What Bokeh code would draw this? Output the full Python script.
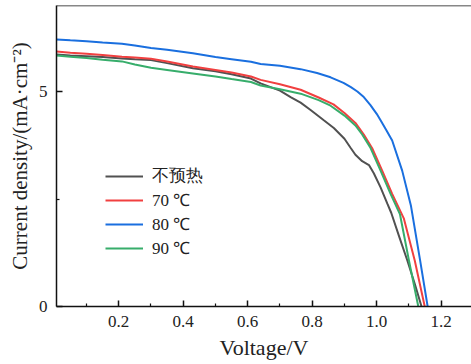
from bokeh.plotting import figure
from bokeh.models import FixedTicker, Span, Legend, LegendItem, Range1d
from bokeh.embed import file_html
from bokeh.resources import INLINE

# J-V curves of the devices (voltage in V, current density in mA/cm^2)
v_none = [0.007, 0.05, 0.10, 0.15, 0.21, 0.25, 0.30, 0.35, 0.43, 0.50, 0.55, 0.61, 0.64,
          0.70, 0.733, 0.764, 0.795, 0.836, 0.867, 0.90, 0.92, 0.934, 0.955, 0.976, 0.991,
          1.012, 1.033, 1.045, 1.07, 1.095, 1.118, 1.139]
j_none = [5.86, 5.84, 5.82, 5.80, 5.77, 5.75, 5.73, 5.66, 5.54, 5.47, 5.40, 5.30, 5.19,
          5.02, 4.87, 4.74, 4.57, 4.33, 4.15, 3.90, 3.68, 3.53, 3.38, 3.29, 3.10,
          2.77, 2.39, 2.18, 1.62, 1.07, 0.53, 0.0]

v_70 = [0.007, 0.05, 0.10, 0.15, 0.21, 0.25, 0.30, 0.35, 0.43, 0.50, 0.55, 0.61, 0.64,
        0.70, 0.764, 0.82, 0.866, 0.90, 0.934, 0.96, 0.986, 1.017, 1.048, 1.084, 1.118, 1.149]
j_70 = [5.93, 5.90, 5.88, 5.85, 5.81, 5.79, 5.76, 5.70, 5.58, 5.50, 5.44, 5.35, 5.27,
        5.17, 5.04, 4.86, 4.70, 4.50, 4.27, 4.00, 3.68, 3.16, 2.62, 2.05, 1.07, 0.0]

v_80 = [0.007, 0.05, 0.10, 0.15, 0.21, 0.25, 0.30, 0.35, 0.43, 0.50, 0.55, 0.61, 0.64,
        0.70, 0.764, 0.815, 0.857, 0.897, 0.92, 0.94, 0.96, 0.98, 1.00, 1.012, 1.03, 1.048,
        1.079, 1.106, 1.134, 1.158]
j_80 = [6.21, 6.19, 6.17, 6.14, 6.11, 6.07, 6.01, 5.97, 5.89, 5.80, 5.75, 5.69, 5.64,
        5.60, 5.52, 5.43, 5.33, 5.20, 5.10, 5.00, 4.87, 4.69, 4.48, 4.33, 4.10, 3.86,
        3.16, 2.35, 1.10, 0.0]

v_90 = [0.007, 0.05, 0.10, 0.15, 0.21, 0.25, 0.30, 0.35, 0.43, 0.50, 0.55, 0.61, 0.64,
        0.70, 0.764, 0.82, 0.857, 0.90, 0.934, 0.955, 0.98, 1.012, 1.043, 1.072, 1.100, 1.129]
j_90 = [5.84, 5.81, 5.78, 5.74, 5.70, 5.63, 5.55, 5.50, 5.42, 5.35, 5.29, 5.22, 5.14,
        5.05, 4.95, 4.80, 4.67, 4.44, 4.21, 4.00, 3.70, 3.16, 2.62, 2.15, 1.07, 0.0]

labels = ["不预热", "70 ℃", "80 ℃", "90 ℃"]
colors = ["#515151", "#F14040", "#1A6FDF", "#37AD6B"]

x_ticks = [0.2, 0.4, 0.6, 0.8, 1.0, 1.2]
x_minor = [0.1, 0.3, 0.5, 0.7, 0.9, 1.1]
y_ticks = [0, 5]
y_minor = [2.5]

SERIF = "Liberation Serif"

p = figure(width=471, height=364, output_backend="svg", toolbar_location=None,
           x_range=Range1d(0.007, 1.294), y_range=Range1d(0, 7),
           min_border_left=56, min_border_right=0, min_border_top=5,
           min_border_bottom=58, outline_line_color=None,
           background_fill_color="white", border_fill_color="white")
p.xgrid.visible = False
p.ygrid.visible = False

# top frame edge
p.add_layout(Span(location=7, dimension="width", line_color="#111111", line_width=1.5))

series = [(v_none, j_none), (v_70, j_70), (v_80, j_80), (v_90, j_90)]
renderers = []
for (v, j), c in zip(series, colors):
    renderers.append(p.line(v, j, line_color=c, line_width=2))

for ax in (p.xaxis[0], p.yaxis[0]):
    ax.axis_line_color = "#111111"
    ax.axis_line_width = 1.5
    ax.major_tick_line_color = "#111111"
    ax.major_tick_line_width = 1.5
    ax.minor_tick_line_color = "#111111"
    ax.minor_tick_line_width = 1.2
    ax.major_tick_in = 6
    ax.major_tick_out = 0
    ax.minor_tick_in = 3
    ax.minor_tick_out = 0
    ax.major_label_text_font = SERIF
    ax.major_label_text_font_size = "17px"
    ax.major_label_text_color = "#222222"
    ax.axis_label_text_font = SERIF
    ax.axis_label_text_font_style = "normal"
    ax.axis_label_text_color = "#222222"

p.xaxis.axis_label_text_font_size = "22px"
p.yaxis.axis_label_text_font_size = "21px"
p.xaxis.ticker = FixedTicker(ticks=x_ticks, minor_ticks=x_minor)
p.yaxis.ticker = FixedTicker(ticks=y_ticks, minor_ticks=y_minor)
p.xaxis.major_label_overrides = {t: f"{t:.1f}" for t in x_ticks}
p.xaxis.axis_label = "Voltage/V"
p.yaxis.axis_label = "Current density/(mA·cm⁻²)"
p.xaxis.major_label_standoff = 9
p.yaxis.major_label_standoff = 9
p.xaxis.axis_label_standoff = 5
p.yaxis.axis_label_standoff = 4

legend = Legend(items=[LegendItem(label=l, renderers=[r]) for l, r in zip(labels, renderers)],
                location=(49, 47), glyph_width=38, glyph_height=20, label_height=20,
                spacing=1, padding=0, margin=0, label_standoff=9,
                label_text_font=SERIF, label_text_font_size="17px",
                label_text_color="#222222",
                background_fill_alpha=0, border_line_alpha=0)
p.add_layout(legend)

open("out.html", "w").write(file_html(p, INLINE))
